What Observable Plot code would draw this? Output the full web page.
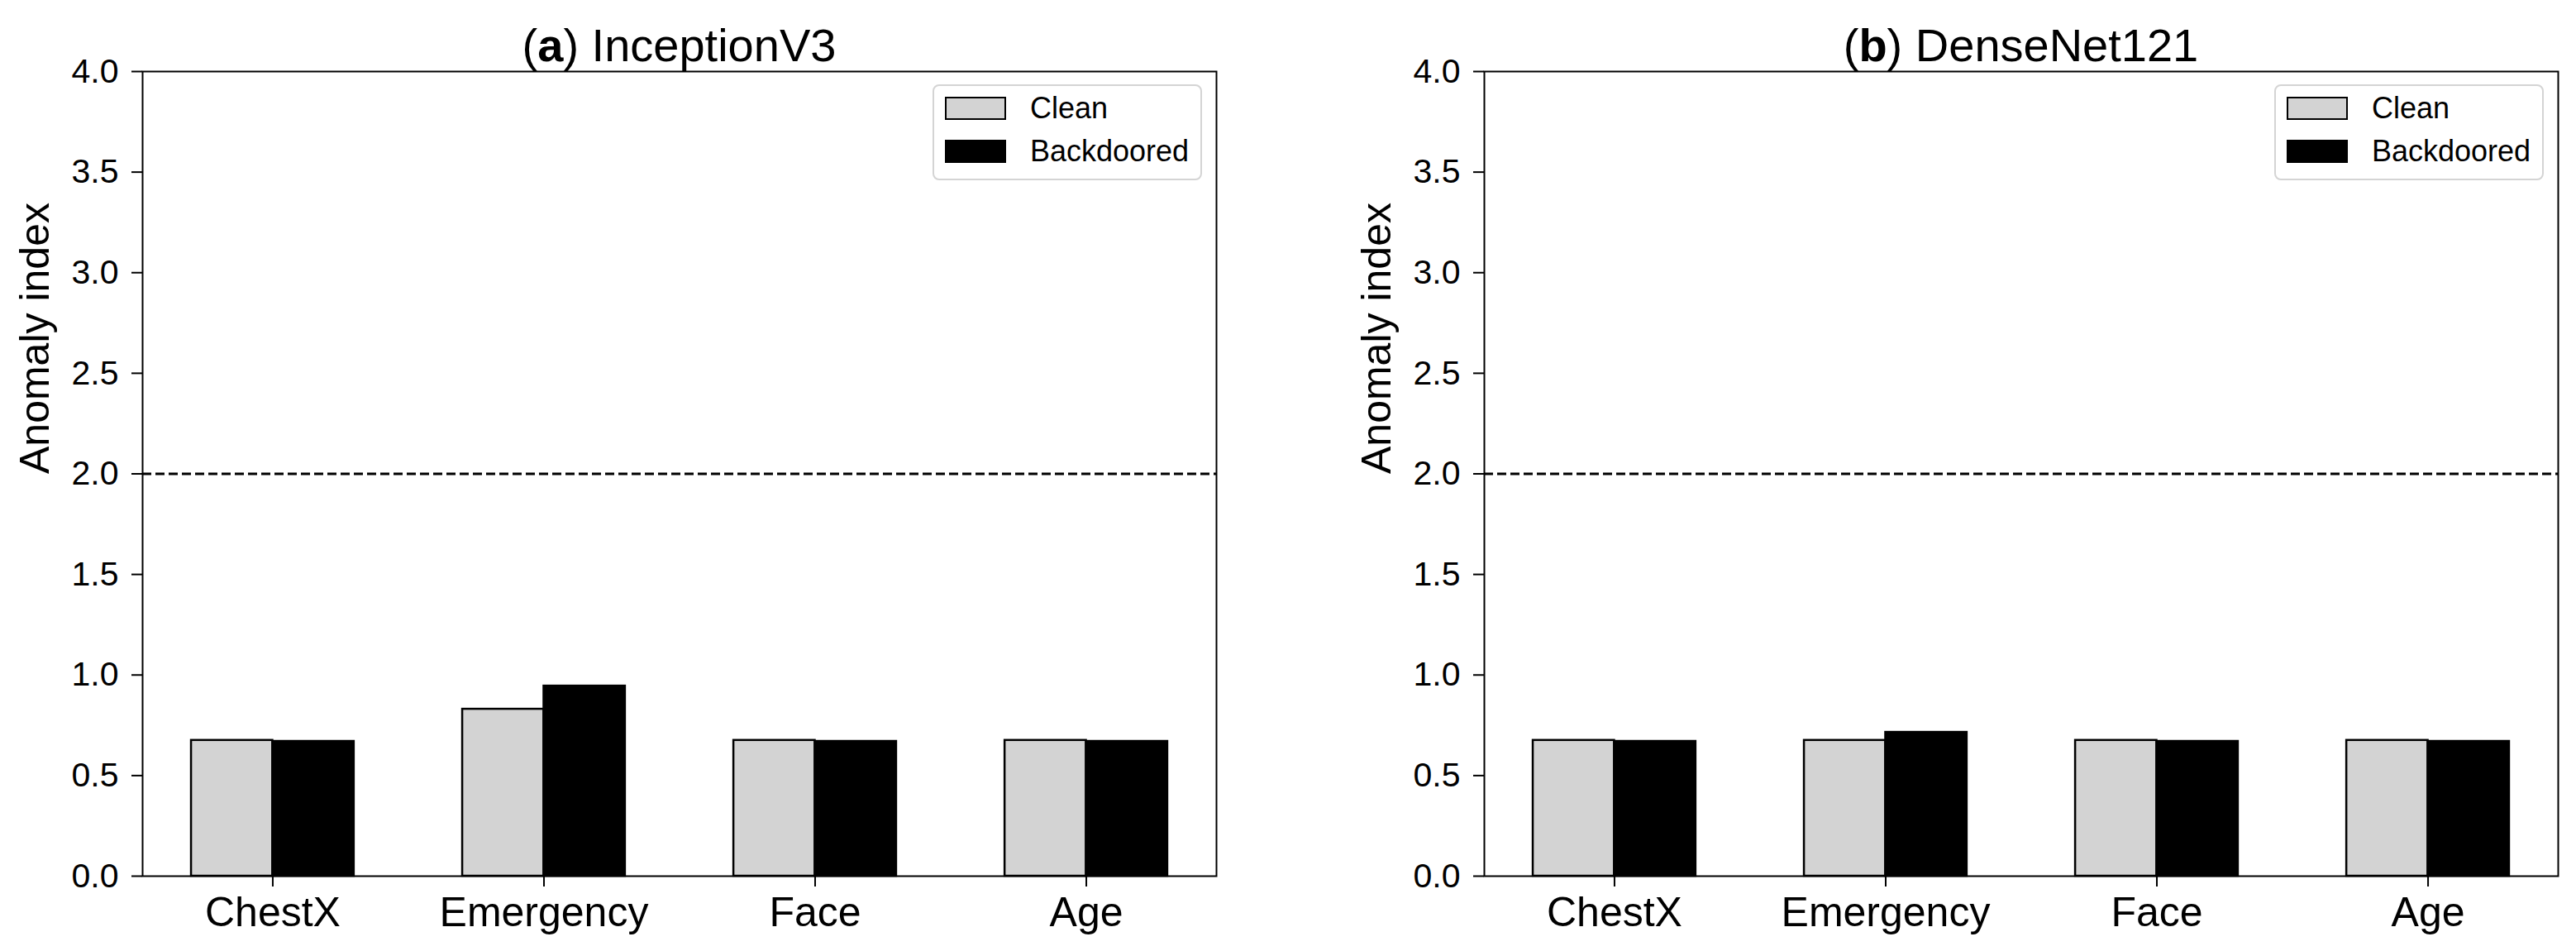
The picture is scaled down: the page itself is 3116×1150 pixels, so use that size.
<!DOCTYPE html>
<html>
<head>
<meta charset="utf-8">
<script src="https://cdn.jsdelivr.net/npm/d3@7"></script>
<script src="https://cdn.jsdelivr.net/npm/@observablehq/plot@0.6"></script>
<style>
  html, body { margin: 0; padding: 0; background: white; }
  #root { position: relative; width: 3116px; height: 1150px; font-family: "Liberation Sans", Arial, Helvetica, sans-serif; color: black; }
  .panel { position: absolute; top: 0; width: 1493px; height: 1150px; }
  .panel svg { position: absolute; left: 0; top: 0; }
  .title { position: absolute; top: 27px; left: 172px; width: 1299px; text-align: center; font-size: 56px; line-height: 56px; white-space: nowrap; }
  .legend { position: absolute; left: 1128px; top: 102px; width: 326px; height: 116px; box-sizing: border-box;
            border: 2px solid #d4d4d4; border-radius: 8px; background: rgba(255,255,255,0.8); padding: 13px 0 0 13px; }
  .row { display: flex; align-items: center; height: 28px; margin-bottom: 24px; }
  .sw { width: 74px; height: 28px; box-sizing: border-box; margin-right: 29px; }
  .lbl { font-size: 36px; line-height: 28px; }
</style>
</head>
<body>
<div id="root"></div>
<script>
// ---- data ----
const categories = ["ChestX", "Emergency", "Face", "Age"];
const seriesNames = ["Clean", "Backdoored"];
const inceptionClean = [0.675, 0.83, 0.675, 0.675];
const inceptionBackdoored = [0.67, 0.945, 0.67, 0.67];
const densenetClean = [0.675, 0.675, 0.675, 0.675];
const densenetBackdoored = [0.67, 0.715, 0.67, 0.67];
const yTicks = [0, 0.5, 1.0, 1.5, 2.0, 2.5, 3.0, 3.5, 4.0];
const threshold = 2.0;
const yLabel = "Anomaly index";
const panels = [
  {letter: "a", name: "InceptionV3", clean: inceptionClean, backdoored: inceptionBackdoored, left: 0},
  {letter: "b", name: "DenseNet121", clean: densenetClean, backdoored: densenetBackdoored, left: 1623}
];

// ---- layout ----
const W = 1493, H = 1150, mL = 172, mR = 22, mT = 86, mB = 91;
const pIn = 0.4, pOut = 0.18;
const step = (W - mL - mR) / (categories.length - pIn + 2 * pOut);
const half = step * (1 - pIn) / 2;

const root = document.getElementById("root");

for (const p of panels) {
  const rows = categories.map((c, i) => ({category: c, clean: p.clean[i], backdoored: p.backdoored[i]}));
  const chart = Plot.plot({
    width: W, height: H,
    marginLeft: mL, marginRight: mR, marginTop: mT, marginBottom: mB,
    style: {fontFamily: '"Liberation Sans", Arial, Helvetica, sans-serif', background: "white", color: "black", overflow: "visible"},
    x: {domain: categories, paddingInner: pIn, paddingOuter: pOut, align: 0.5, round: false, label: null},
    y: {domain: [0, 4], label: null},
    marks: [
      Plot.barY(rows, {x: "category", y: "clean", fill: "#d3d3d3", stroke: "black", strokeWidth: 2.5, insetRight: half}),
      Plot.barY(rows, {x: "category", y: "backdoored", fill: "black", stroke: "black", strokeWidth: 2.5, insetLeft: half}),
      Plot.ruleY([threshold], {stroke: "black", strokeWidth: 3, strokeDasharray: "11,5"}),
      Plot.frame({stroke: "black", strokeWidth: 2}),
      Plot.axisX({tickSize: 13, tickPadding: 12, fontSize: 50, strokeWidth: 2, label: null}),
      Plot.axisY({ticks: yTicks, tickFormat: d3.format(".1f"), tickSize: 13, tickPadding: 16, fontSize: 41, strokeWidth: 2, label: null}),
      Plot.text([yLabel], {frameAnchor: "left", dx: -130, rotate: -90, fontSize: 50})
    ]
  });
  const panel = document.createElement("div");
  panel.className = "panel";
  panel.style.left = p.left + "px";
  panel.appendChild(chart);

  const title = document.createElement("div");
  title.className = "title";
  title.innerHTML = `(<b>${p.letter}</b>) ${p.name}`;
  panel.appendChild(title);

  const legend = document.createElement("div");
  legend.className = "legend";
  const fills = {Clean: "#d3d3d3", Backdoored: "black"};
  for (const s of seriesNames) {
    const row = document.createElement("div");
    row.className = "row";
    const sw = document.createElement("div");
    sw.className = "sw";
    sw.style.background = fills[s];
    sw.style.border = "2.5px solid black";
    const lbl = document.createElement("span");
    lbl.className = "lbl";
    lbl.textContent = s;
    row.appendChild(sw);
    row.appendChild(lbl);
    legend.appendChild(row);
  }
  panel.appendChild(legend);
  root.appendChild(panel);
}
</script>
</body>
</html>
